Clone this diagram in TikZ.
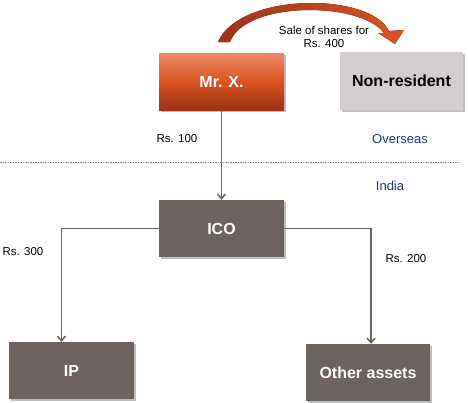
\documentclass[tikz,border=0pt]{standalone}
\usepackage{fontspec}
\setmainfont{Liberation Sans}
\usetikzlibrary{arrows.meta,shadows,calc}
\definecolor{boxbrown}{HTML}{6E6260}
\definecolor{nrgray}{HTML}{D2CECD}
\definecolor{ovblue}{HTML}{1F3A78}
\definecolor{arrdark}{HTML}{9E3218}
\definecolor{arrlight}{HTML}{DA5420}
\definecolor{mxtop}{HTML}{EC8A66}
\begin{document}
\begin{tikzpicture}[x=1pt,y=-1pt,
  box/.style={rectangle, minimum width=125pt, minimum height=57pt, inner sep=0pt,
    font=\fontsize{16}{18}\selectfont\bfseries, text=white,
    drop shadow={shadow xshift=1.5pt, shadow yshift=-1.5pt, fill=black, opacity=0.25}},
  lbl/.style={font=\fontsize{11.5}{13}\selectfont, text=black, inner sep=0pt},
  reg/.style={font=\fontsize{13}{15}\selectfont, text=ovblue, inner sep=0pt},
  conn/.style={draw=boxbrown, line width=1.9pt, -{Straight Barb[length=4.5pt,width=8pt,line width=1.6pt]}}]
\useasboundingbox (0,0) rectangle (468,402);
% curved arrow
\fill[left color=arrdark, right color=arrlight]
  (218,42) .. controls (240,-8) and (370,-8) .. (389,31)
  -- (404,30) -- (395,44) -- (378,33) -- (384,33)
  .. controls (360,1) and (245,1) .. (230,42) -- cycle;
% boxes
\node[box, top color=mxtop, bottom color=arrdark, middle color=arrlight] (mrx) at (221.5,81.5) {Mr. X.};
\node[box, fill=nrgray, text=black, minimum width=123pt, minimum height=58pt] (nr) at (401.5,81) {Non-resident};
\node[box, fill=boxbrown] (ico) at (221.5,228.5) {ICO};
\node[box, fill=boxbrown] (ip) at (71.5,370.5) {IP};
\node[box, fill=boxbrown, minimum width=124pt] (oa) at (368,372.5) {Other assets};
% labels
\node[lbl, align=center] (sale) at (324,37) {Sale of shares for\\Rs. 400};
\node[lbl] (r100) at (177,139) {Rs. 100};
\node[lbl] (r300) at (23,252) {Rs. 300};
\node[lbl] (r200) at (406,259) {Rs. 200};
\node[reg] (ov) at (400,139) {Overseas};
\node[reg] (ind) at (390,186) {India};
% dashed divider
\coordinate (dl) at (0,162);
\coordinate (dr) at (458,162);
\draw[gray, line width=0.7pt, dash pattern=on 1.5pt off 1pt] (dl) -- (dr);
% connectors
\draw[conn] (mrx.south) -- (ico.north);
\draw[conn] (ico.west) -| ([xshift=-10pt]ip.north);
\draw[conn] (ico.east) -| ([xshift=3pt]oa.north);
\end{tikzpicture}
\end{document}
